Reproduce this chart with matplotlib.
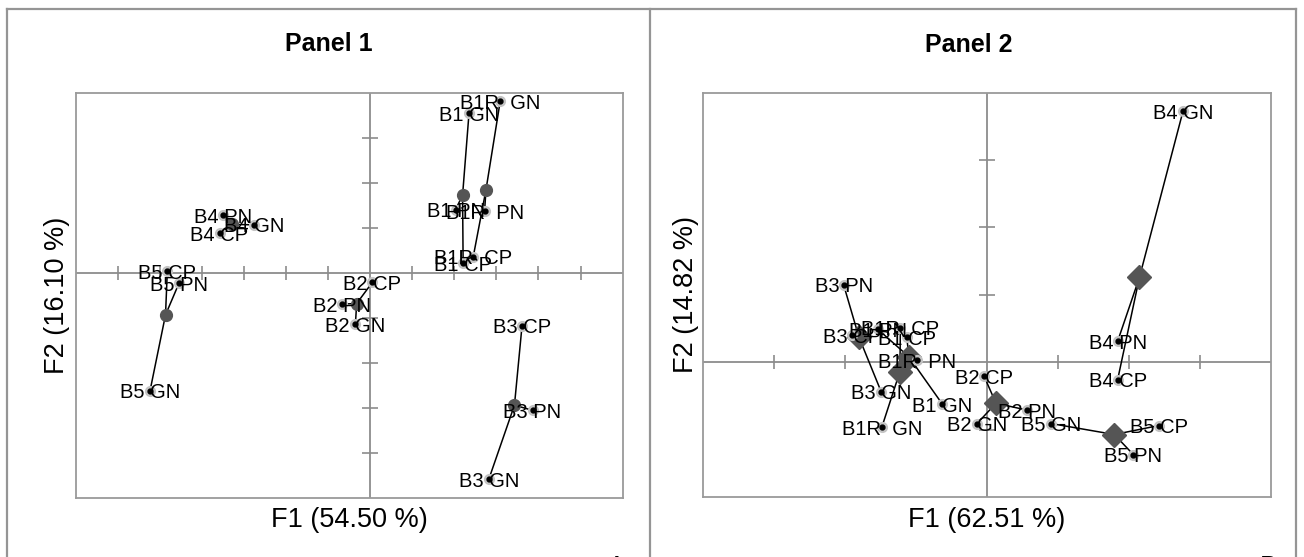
import matplotlib
matplotlib.use("Agg")
import matplotlib.pyplot as plt
from matplotlib.lines import Line2D
import numpy as np

plt.rcParams['font.family'] = ['Liberation Sans', 'DejaVu Sans']

groups = ["B1", "B1R", "B2", "B3", "B4", "B5"]
conditions = ["GN", "PN", "CP"]

# scores per group, in the order of `conditions`
p1_x = {
    "B1": [2.35, 2.03, 2.21],
    "B1R": [3.09, 2.72, 2.45],
    "B2": [-0.35, -0.66, 0.05],
    "B3": [2.82, 3.86, 3.61],
    "B4": [-2.75, -3.49, -3.58],
    "B5": [-5.23, -4.54, -4.82],
}
p1_y = {
    "B1": [3.55, 1.41, 0.22],
    "B1R": [3.81, 1.38, 0.36],
    "B2": [-1.13, -0.69, -0.21],
    "B3": [-4.58, -3.05, -1.17],
    "B4": [1.07, 1.29, 0.88],
    "B5": [-2.61, -0.22, 0.04],
}
p2_x = {
    "B1": [-0.63, -1.54, -1.13],
    "B1R": [-1.48, -0.98, -1.22],
    "B2": [-0.14, 0.56, -0.04],
    "B3": [-1.49, -2.02, -1.90],
    "B4": [2.76, 1.84, 1.84],
    "B5": [0.90, 2.06, 2.42],
}
p2_y = {
    "B1": [-0.62, 0.49, 0.37],
    "B1R": [-0.96, 0.03, 0.51],
    "B2": [-0.91, -0.71, -0.21],
    "B3": [-0.44, 1.15, 0.40],
    "B4": [3.72, 0.31, -0.26],
    "B5": [-0.91, -1.37, -0.94],
}

W, H = 1304, 557
fig = plt.figure(figsize=(W / 100, H / 100), dpi=100)

AXIS_GREY = "#8c8c8c"
FRAME_GREY = "#959595"


def add_panel(box, xlim, ylim, xs, ys, centre_marker, centre_size, title, title_xy, xlabel, ylabel_x):
    l, t, r, b = box
    ax = fig.add_axes([l / W, 1 - b / H, (r - l) / W, (b - t) / H])
    ax.set_xlim(*xlim)
    ax.set_ylim(*ylim)
    ax.set_xticks([])
    ax.set_yticks([])
    for sp in ax.spines.values():
        sp.set_color("#9a9a9a")
        sp.set_linewidth(1.3)

    # axes through the origin with small cross ticks
    ax.axhline(0, color=AXIS_GREY, lw=1.3, zorder=1)
    ax.axvline(0, color=AXIS_GREY, lw=1.3, zorder=1)
    tx = [v for v in range(xlim[0] + 1, xlim[1]) if v != 0]
    ty = [v for v in range(ylim[0] + 1, ylim[1]) if v != 0]
    ax.plot(tx, [0] * len(tx), ls="none", marker="|", ms=10, mew=1.2, color=AXIS_GREY, zorder=1)
    ax.plot([0] * len(ty), ty, ls="none", marker="_", ms=11, mew=1.2, color=AXIS_GREY, zorder=1)

    for g in groups:
        gx = np.array(xs[g])
        gy = np.array(ys[g])
        cx, cy = gx.mean(), gy.mean()
        for px, py in zip(gx, gy):
            ax.plot([cx, px], [cy, py], color="black", lw=1.1, zorder=2)
        ax.plot(cx, cy, marker=centre_marker, ms=centre_size, color="#555555", ls="none", zorder=3)
        ax.plot(gx, gy, "o", ms=7, color="#c4c4c4", ls="none", zorder=4)
        ax.plot(gx, gy, "o", ms=3.5, color="black", ls="none", zorder=5)
        gap = "  " if g == "B1R" else " "
        for c, px, py in zip(conditions, gx, gy):
            ax.annotate(g + gap + c, (px, py), xytext=(0, -5.5), textcoords="offset points",
                        ha="center", va="baseline", fontsize=14.5, zorder=6)

    fig.text(title_xy[0] / W, 1 - title_xy[1] / H, title, ha="center", va="center",
             fontsize=18, fontweight="bold")
    ax.text(0.5, -(519.6 - b) / (b - t), xlabel, transform=ax.transAxes,
            ha="center", va="center", fontsize=19.5)
    return ax


ax1 = add_panel((75.6, 92.9, 622.6, 498.2), (-7, 6), (-5, 4), p1_x, p1_y, "o", 8.5,
                "Panel 1", (329, 44), "F1 (54.50 %)", 57)
ax1.text(-(75.6 - 57) / 547, 0.5, "F2 (16.10 %)", transform=ax1.transAxes,
         ha="center", va="center", rotation=90, fontsize=19.5)

ax2 = add_panel((703, 92.5, 1271, 497), (-4, 4), (-2, 4), p2_x, p2_y, "D", 12,
                "Panel 2", (969, 44.6), "F1 (62.51 %)", 685.5)
ax2.text(-(703 - 685.5) / 568, 0.5, "F2 (14.82 %)", transform=ax2.transAxes,
         ha="center", va="center", rotation=90, fontsize=19.5)

# panel frames
def fline(x0, y0, x1, y1):
    fig.add_artist(Line2D([x0 / W, x1 / W], [1 - y0 / H, 1 - y1 / H], color=FRAME_GREY, lw=1.6))

fline(7, 8.5, 1296, 8.5)
fline(7, 8.5, 7, H)
fline(650, 8.5, 650, H)
fline(1296, 8.5, 1296, H)

# panel letters, cut by the lower edge
fig.text(616.5 / W, 1 - 554.5 / H, "A", ha="center", va="top", fontsize=19)
fig.text(1269 / W, 1 - 554.5 / H, "B", ha="center", va="top", fontsize=19)

fig.savefig("out.png", dpi=100)
